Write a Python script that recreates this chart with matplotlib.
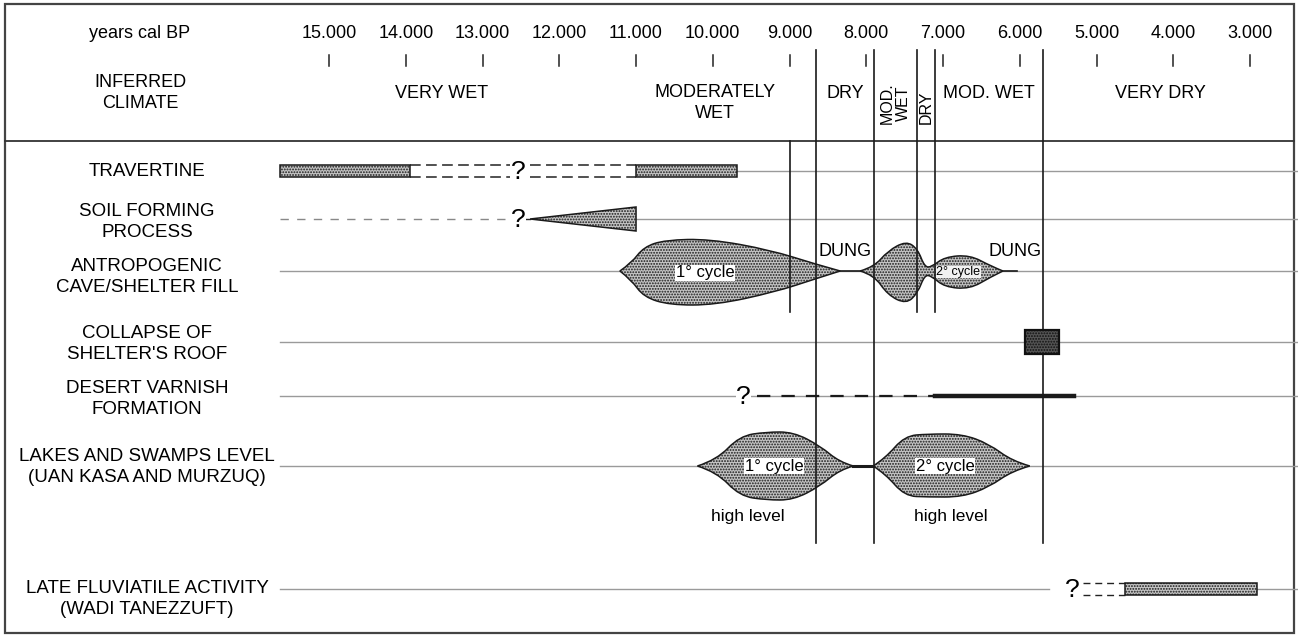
"""
Palaeoclimate / geomorphology chart for the Acacus area, 15.000-3.000 cal BP
"""
import matplotlib
matplotlib.use('Agg')
import matplotlib.pyplot as plt
from matplotlib.path import Path
from matplotlib.patches import PathPatch, Rectangle, Polygon

plt.rcParams['font.family'] = ['Liberation Sans', 'DejaVu Sans']
plt.rcParams['hatch.linewidth'] = 0.9
plt.rcParams['hatch.color'] = '#2a2a2a'

# time axis
tick_years = [15000, 14000, 13000, 12000, 11000, 10000, 9000, 8000, 7000, 6000, 5000, 4000, 3000]
tick_labels = ['15.000', '14.000', '13.000', '12.000', '11.000', '10.000', '9.000',
               '8.000', '7.000', '6.000', '5.000', '4.000', '3.000']

# inferred climate phases
climate_bounds = [8650, 7900, 7340, 7100, 5700]
climate_names = ['VERY WET', 'MODERATELY\nWET', 'DRY', 'MOD. WET', 'VERY DRY']
climate_centers = [13530, 9970, 8275, 6400, 4170]
narrow_names = ['MOD.\nWET', 'DRY']
narrow_centers = [7620, 7220]

row_names = ['TRAVERTINE', 'SOIL FORMING\nPROCESS', 'ANTROPOGENIC\nCAVE/SHELTER FILL',
             "COLLAPSE OF\nSHELTER'S ROOF", 'DESERT VARNISH\nFORMATION',
             'LAKES AND SWAMPS LEVEL\n(UAN KASA AND MURZUQ)',
             'LATE FLUVIATILE ACTIVITY\n(WADI TANEZZUFT)']

# travertine deposition (years BP)
travertine_spans = [(15640, 13950), (11000, 9680)]
travertine_gap = [(13950, 12640), (12380, 11000)]
travertine_q = 12540

# soil formation
soil_dashed = (15640, 12700)
soil_q = 12540
soil_wedge = (12380, 11000)

# anthropogenic fill, outline (year, offset above / below row line)
fill1_top = [(11210, 0), (11060, -8), (10900, -24), (10620, -31), (10040, -32), (9250, -21), (8670, -7), (8340, 0)]
fill1_bot = [(11210, 0), (11060, 9), (10900, 26), (10560, 34), (9970, 34), (9190, 21), (8670, 8), (8340, 0)]
fill2_top = [(8080, 0), (7900, -4), (7720, -20), (7480, -30), (7330, -22), (7240, -4),
             (7150, -4), (6980, -14), (6650, -16), (6380, -5), (6220, 0)]
fill2_bot = [(8080, 0), (7900, 4), (7720, 24), (7480, 33), (7330, 22), (7240, 4),
             (7150, 5), (6980, 16), (6650, 18), (6380, 6), (6220, 0)]
fill_links = [(8340, 8080), (6220, 6035)]

# collapse of the shelter roof
collapse_span = (5930, 5490)

# desert varnish
varnish_q = 9600
varnish_dashed = (9420, 7100)
varnish_solid = (7100, 5300)

# lake / swamp high stands
lake1_top = [(10200, 0), (9950, -6), (9650, -30), (9300, -34), (8950, -34), (8600, -20), (8350, -4), (8170, 0)]
lake1_bot = [(10200, 0), (9950, 6), (9650, 30), (9300, 34), (8950, 34), (8600, 20), (8350, 4), (8170, 0)]
lake_link = (8170, 7910)
lake2_top = [(7910, 0), (7750, -8), (7500, -30), (7200, -32), (6750, -32), (6400, -22), (6100, -5), (5870, 0)]
lake2_bot = [(7910, 0), (7750, 8), (7500, 30), (7200, 31), (6750, 31), (6400, 21), (6100, 5), (5870, 0)]

# late fluviatile activity
fluvial_q = 5320
fluvial_gap = (5175, 4630)
fluvial_span = (4630, 2910)

# layout (figure pixels, y downwards)
row_y = [171, 219, 271, 342, 396, 466, 589]
label_y = [172, 222, 277, 344, 399, 467, 599]
line_start = 15640
STIPPLE = dict(facecolor='#c4c4c4', edgecolor='#1a1a1a', hatch='......', linewidth=1.1)
FS = 13


def smooth_path(top, bot, y0):
    """Closed outline: quadratic curves through the midpoints of the control points."""
    def edge(pts):
        pts = [(x, y0 + dy) for x, dy in pts]
        verts, codes = [], []
        for i in range(1, len(pts) - 1):
            if i == len(pts) - 2:
                end = pts[-1]
            else:
                end = ((pts[i][0] + pts[i + 1][0]) / 2, (pts[i][1] + pts[i + 1][1]) / 2)
            verts += [pts[i], end]
            codes += [Path.CURVE3, Path.CURVE3]
        return pts[0], verts, codes

    start, v1, c1 = edge(top)
    _, v2, c2 = edge(bot[::-1])
    verts = [start] + v1 + v2 + [start]
    codes = [Path.MOVETO] + c1 + c2 + [Path.CLOSEPOLY]
    return Path(verts, codes)


fig = plt.figure(figsize=(12.98, 6.37), dpi=100)
ax = fig.add_axes([0, 0, 1, 1])
ax.set_xlim(19287, 2375)
ax.set_ylim(637, 0)
ax.axis('off')
ylab = ax.get_yaxis_transform()

# frame and header divider
ax.add_patch(Rectangle((5 / 1298, 4 / 637), 1289 / 1298, 629 / 637, transform=ax.transAxes,
                       fill=False, edgecolor='#444444', linewidth=1.6))
ax.plot([5 / 1298, 1294 / 1298], [141, 141], transform=ylab, color='#333333', lw=1.3)

# header
ax.text(140 / 1298, 34, 'years cal BP', transform=ylab, ha='center', va='center', fontsize=FS)
ax.text(140 / 1298, 93, 'INFERRED\nCLIMATE', transform=ylab, ha='center', va='center',
        fontsize=FS, linespacing=1.3)
for yr, lab in zip(tick_years, tick_labels):
    ax.text(yr, 34, lab, ha='center', va='center', fontsize=FS)
    ax.plot([yr, yr], [55, 66], color='#222222', lw=1.1)

for name, yr in zip(climate_names, climate_centers):
    if '\n' in name:
        ax.text(yr, 84, name, ha='center', va='top', fontsize=FS, linespacing=1.3)
    else:
        ax.text(yr, 94, name, ha='center', va='center', fontsize=FS)
for name, yr in zip(narrow_names, narrow_centers):
    ax.text(yr, 124, name, ha='center', va='bottom', rotation=90, fontsize=11.5,
            linespacing=1.05)

# phase boundaries: full, half and lower-panel-only lines
for yr in climate_bounds:
    bottom = 543 if yr in (8650, 7900, 5700) else 312
    ax.plot([yr, yr], [50, bottom], color='#1a1a1a', lw=1.2, zorder=5)
ax.plot([9000, 9000], [141, 312], color='#1a1a1a', lw=1.2, zorder=5)

# row labels and guide lines
for name, y in zip(row_names, label_y):
    ax.text(147 / 1298, y, name, transform=ylab, ha='center', va='center',
            fontsize=13.5, linespacing=1.38)

grey = dict(color='#9a9a9a', lw=1.0, zorder=1)
ax.plot([travertine_spans[1][1], 2375], [row_y[0]] * 2, **grey)
ax.plot([soil_wedge[1], 2375], [row_y[1]] * 2, **grey)
for y in row_y[2:6]:
    ax.plot([line_start, 2375], [y, y], **grey)
ax.plot([line_start, fluvial_q + 300], [row_y[6]] * 2, **grey)
ax.plot([fluvial_span[1], 2375], [row_y[6]] * 2, **grey)

qstyle = dict(ha='center', va='center', fontsize=19, zorder=6,
              bbox=dict(facecolor='white', edgecolor='none', pad=0.3))

# travertine
y = row_y[0]
for a, b in travertine_spans:
    ax.add_patch(Rectangle((a, y - 6), b - a, 12, **STIPPLE, zorder=3))
for a, b in travertine_gap:
    for dy in (-6, 6):
        ax.plot([a, b], [y + dy, y + dy], color='#222222', lw=1.1, ls=(0, (7, 3.5)))
ax.text(travertine_q, y + 1, '?', **qstyle)

# soil forming process
y = row_y[1]
ax.plot(soil_dashed, [y, y], color='#888888', lw=1.0, ls=(0, (6, 6)))
ax.plot([soil_q - 100, soil_wedge[0]], [y, y], color='#222222', lw=1.0)
ax.add_patch(Polygon([(soil_wedge[0], y), (soil_wedge[1], y - 12), (soil_wedge[1], y + 12)],
                     closed=True, **STIPPLE, zorder=3))
ax.text(soil_q, y + 1, '?', **qstyle)

# anthropogenic cave / shelter fill
y = row_y[2]
ax.add_patch(PathPatch(smooth_path(fill1_top, fill1_bot, y), **STIPPLE, zorder=3))
ax.add_patch(PathPatch(smooth_path(fill2_top, fill2_bot, y), **STIPPLE, zorder=3))
for a, b in fill_links:
    ax.plot([a, b], [y, y], color='#1a1a1a', lw=1.2, zorder=3)
ax.text(10100, y + 2, '1° cycle', ha='center', va='center', fontsize=12, zorder=4,
        bbox=dict(facecolor='white', edgecolor='none', pad=0.4))
ax.text(6800, y + 1, '2° cycle', ha='center', va='center', fontsize=9, zorder=4,
        bbox=dict(facecolor='#f2f2f2', edgecolor='none', pad=0.2))
ax.text(8280, 252, 'DUNG', ha='center', va='center', fontsize=FS)
ax.text(6060, 252, 'DUNG', ha='center', va='center', fontsize=FS)

# collapse of shelter's roof
y = row_y[3]
ax.add_patch(Rectangle((collapse_span[0], y - 12), collapse_span[1] - collapse_span[0], 24,
                       facecolor='#555555', edgecolor='#111111', hatch='......', lw=1.6, zorder=6))

# desert varnish
y = row_y[4]
ax.plot(varnish_dashed, [y, y], color='#1a1a1a', lw=1.6, ls=(0, (6, 5)), zorder=3)
ax.plot(varnish_solid, [y, y], color='#1a1a1a', lw=3.2, zorder=3)
ax.text(varnish_q, y + 1, '?', **qstyle)

# lakes and swamps
y = row_y[5]
ax.add_patch(PathPatch(smooth_path(lake1_top, lake1_bot, y), **STIPPLE, zorder=3))
ax.add_patch(PathPatch(smooth_path(lake2_top, lake2_bot, y), **STIPPLE, zorder=3))
ax.plot(lake_link, [y, y], color='#1a1a1a', lw=2.2, zorder=3)
for yr, lab in [(9200, '1° cycle'), (6970, '2° cycle')]:
    ax.text(yr, y, lab, ha='center', va='center', fontsize=12, zorder=4,
            bbox=dict(facecolor='white', edgecolor='none', pad=0.4))
for yr in (9550, 6900):
    ax.text(yr, 517, 'high level', ha='center', va='center', fontsize=12.5)

# late fluviatile activity
y = row_y[6]
ax.add_patch(Rectangle((fluvial_span[0], y - 6), fluvial_span[1] - fluvial_span[0], 12,
                       **STIPPLE, zorder=3))
for dy in (-6, 6):
    ax.plot(fluvial_gap, [y + dy, y + dy], color='#222222', lw=1.0, ls=(0, (5, 3.5)))
ax.text(fluvial_q, y + 1, '?', **qstyle)

plt.savefig('out.png', dpi=100)
